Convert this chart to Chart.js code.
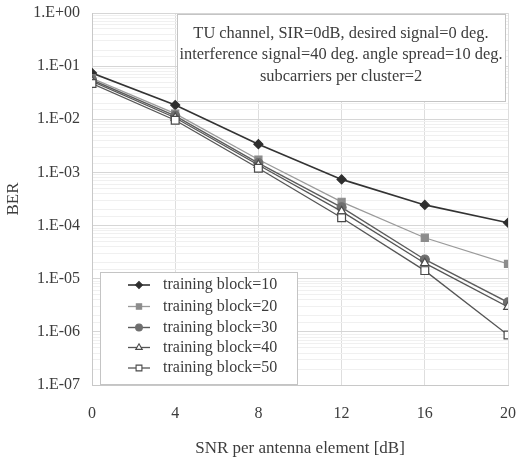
<!DOCTYPE html>
<html>
<head>
<meta charset="utf-8">
<script src="https://cdn.jsdelivr.net/npm/chart.js@4/dist/chart.umd.min.js"></script>
<style>
  html, body { margin: 0; padding: 0; background: #ffffff; }
  #wrap { width: 519px; height: 460px; position: relative; }
</style>
</head>
<body>
<div id="wrap"><canvas id="c" width="519" height="460"></canvas></div>
<script>
// SNR per antenna element [dB]
const snrValues = [0, 4, 8, 12, 16, 20];

// BER for each training block length
const berBlock10 = [0.074, 0.0185, 0.0034, 7.4e-4, 2.45e-4, 1.13e-4];
const berBlock20 = [0.059, 0.0128, 1.75e-3, 2.8e-4, 5.9e-5, 1.9e-5];
const berBlock30 = [0.055, 0.0116, 1.5e-3, 2.2e-4, 2.3e-5, 3.6e-6];
const berBlock40 = [0.052, 0.0107, 1.38e-3, 1.85e-4, 1.96e-5, 2.95e-6];
const berBlock50 = [0.047, 0.0096, 1.2e-3, 1.4e-4, 1.42e-5, 8.7e-7];

const seriesNames = [
  'training block=10',
  'training block=20',
  'training block=30',
  'training block=40',
  'training block=50'
];

const xTicks = [0, 4, 8, 12, 16, 20];

const noteLines = [
  'TU channel, SIR=0dB, desired signal=0 deg.',
  'interference signal=40 deg. angle spread=10 deg.',
  'subcarriers per cluster=2'
];

const FONT = '"Liberation Serif", "Times New Roman", serif';
const TEXT = '#3c3c3c';

function pts(ys) {
  return snrValues.map((x, i) => ({ x: x, y: ys[i] }));
}

const styles = [
  { pointStyle: 'rectRot', radius: 4.5, bg: '#2e2e2e', border: '#2e2e2e', line: '#333333', bw: 1.6 },
  { pointStyle: 'rect', radius: 5, bg: '#8c8c8c', border: '#8c8c8c', line: '#9a9a9a', bw: 1.3 },
  { pointStyle: 'circle', radius: 4.5, bg: '#6e6e6e', border: '#6e6e6e', line: '#5c5c5c', bw: 1.4 },
  { pointStyle: 'triangle', radius: 5, bg: '#ffffff', border: '#4a4a4a', line: '#555555', bw: 1.3 },
  { pointStyle: 'rect', radius: 5.5, bg: '#ffffff', border: '#4a4a4a', line: '#555555', bw: 1.3 }
];

const seriesData = [berBlock10, berBlock20, berBlock30, berBlock40, berBlock50];

const datasets = seriesData.map((ys, i) => ({
  label: seriesNames[i],
  data: pts(ys),
  borderColor: styles[i].line,
  borderWidth: styles[i].bw,
  pointStyle: styles[i].pointStyle,
  pointRadius: styles[i].radius,
  pointBackgroundColor: styles[i].bg,
  pointBorderColor: styles[i].border,
  pointBorderWidth: 1.2,
  tension: 0,
  fill: false,
  order: 5 - i
}));

function isDecade(v) {
  const e = Math.log10(v);
  return Math.abs(e - Math.round(e)) < 1e-9;
}

function decadeLabel(v) {
  const e = Math.round(Math.log10(v));
  const sign = e >= 0 ? '+' : '-';
  const a = Math.abs(e);
  return '1.E' + sign + (a < 10 ? '0' + a : String(a));
}

// Framed annotation box and the inset legend
const boxesPlugin = {
  id: 'boxes',
  afterDatasetsDraw(chart) {
    const ctx = chart.ctx;
    ctx.save();

    // annotation box
    ctx.fillStyle = '#ffffff';
    ctx.strokeStyle = '#c4c4c4';
    ctx.lineWidth = 1;
    ctx.fillRect(177, 14, 328, 87);
    ctx.strokeRect(177.5, 14.5, 328, 87);
    ctx.fillStyle = TEXT;
    ctx.font = '16.4px ' + FONT;
    ctx.textAlign = 'center';
    ctx.textBaseline = 'middle';
    const noteY = [34, 55, 76.5];
    noteLines.forEach((t, i) => ctx.fillText(t, 341, noteY[i]));

    // legend box
    ctx.fillStyle = '#ffffff';
    ctx.fillRect(100, 272, 197, 112);
    ctx.strokeStyle = '#c4c4c4';
    ctx.strokeRect(100.5, 272.5, 197, 112);
    const rowY = [285, 306.5, 327.5, 347.5, 368];
    chart.data.datasets.forEach((ds, i) => {
      const y = rowY[i];
      ctx.strokeStyle = ds.borderColor;
      ctx.lineWidth = ds.borderWidth;
      ctx.beginPath();
      ctx.moveTo(128, y);
      ctx.lineTo(150, y);
      ctx.stroke();
      ctx.fillStyle = ds.pointBackgroundColor;
      ctx.strokeStyle = ds.pointBorderColor;
      ctx.lineWidth = 1.1;
      Chart.helpers.drawPoint(ctx, {
        pointStyle: ds.pointStyle,
        radius: ds.pointRadius * 0.75,
        borderWidth: 1.1,
        rotation: 0
      }, 139, y);
      ctx.fillStyle = TEXT;
      ctx.font = '16px ' + FONT;
      ctx.textAlign = 'left';
      ctx.textBaseline = 'middle';
      ctx.fillText(ds.label, 163, y);
    });
    ctx.restore();
  }
};

new Chart(document.getElementById('c'), {
  type: 'line',
  data: { datasets: datasets },
  plugins: [boxesPlugin],
  options: {
    responsive: false,
    animation: false,
    events: [],
    layout: { padding: { left: 0, right: 11, top: 13, bottom: 0 } },
    plugins: {
      legend: { display: false },
      tooltip: { enabled: false },
      title: { display: false }
    },
    scales: {
      x: {
        type: 'linear',
        min: 0,
        max: 20,
        afterBuildTicks(scale) {
          scale.ticks = xTicks.map(v => ({ value: v }));
        },
        afterFit(scale) {
          scale.height = 75;
          scale.paddingLeft = 0;
          scale.paddingRight = 0;
        },
        border: { display: true, color: '#c8c8c8' },
        grid: { color: '#dedede', drawTicks: false },
        ticks: {
          padding: 19,
          color: TEXT,
          font: { family: FONT, size: 16 }
        },
        title: {
          display: true,
          text: 'SNR per antenna element [dB]',
          color: TEXT,
          font: { family: FONT, size: 17 },
          padding: { top: 0, bottom: 1 }
        }
      },
      y: {
        type: 'logarithmic',
        min: 1e-7,
        max: 1,
        afterFit(scale) {
          scale.width = 92;
          scale.paddingTop = 0;
          scale.paddingBottom = 0;
        },
        border: { display: true, color: '#c8c8c8' },
        grid: {
          drawTicks: false,
          color: (c) => (c.tick && isDecade(c.tick.value)) ? '#d6d6d6' : '#f0f0f0'
        },
        ticks: {
          autoSkip: false,
          padding: 12,
          color: TEXT,
          font: { family: FONT, size: 16 },
          callback: (v) => isDecade(v) ? decadeLabel(v) : ''
        },
        title: {
          display: true,
          text: 'BER',
          color: TEXT,
          font: { family: FONT, size: 17 },
          padding: { top: 3, bottom: 0 }
        }
      }
    }
  }
});
</script>
</body>
</html>
